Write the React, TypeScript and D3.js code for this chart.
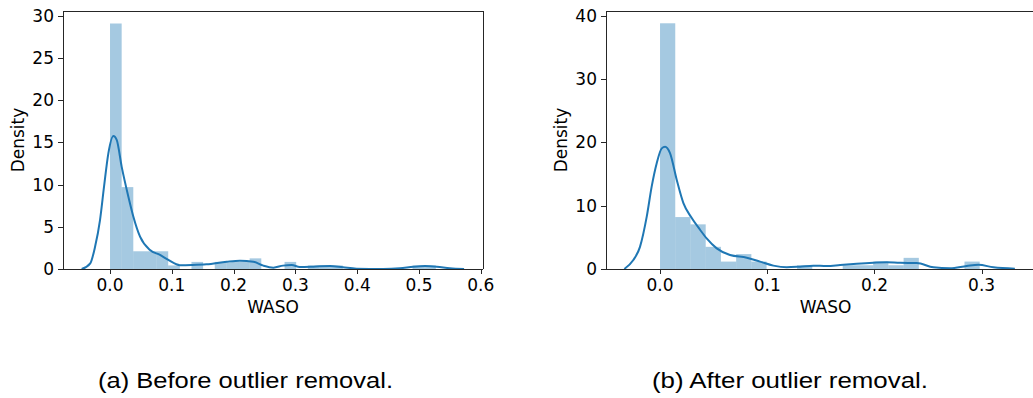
import React from "react";
import * as d3 from "d3";

// ---- Data ----
const leftBinWidth = 0.01883;
const leftDensity = [
  29.08, 9.7, 2.1, 2.1, 2.1, 0.42, 0, 0.84, 0, 0.84, 0.84, 0.84, 1.26, 0, 0,
  0.84, 0, 0.42, 0.42, 0.42, 0, 0, 0, 0, 0, 0, 0.42, 0.42,
];
const rightBinWidth = 0.0142;
const rightDensity = [
  38.8, 8.2, 7.05, 3.5, 1.17, 2.35, 1.17, 0, 0, 0.59, 0, 0, 0.59, 0.59, 1.17,
  0.59, 1.76, 0, 0, 0, 1.17,
];

const leftKdeX = [
  -0.0459, -0.032, -0.0243, -0.0162, -0.0097, -0.0027, 0.0054, 0.0108, 0.0189,
  0.0297, 0.0378, 0.0486, 0.0647, 0.0809, 0.0944, 0.113, 0.132, 0.156, 0.189,
  0.2103, 0.2319, 0.2481, 0.2643, 0.28, 0.294, 0.307, 0.329, 0.356, 0.377,
  0.399, 0.442, 0.469, 0.491, 0.51, 0.529, 0.55, 0.573,
];
const leftKdeY = [
  0, 0.67, 2.6, 5.8, 9.75, 13.7, 15.75, 15.3, 12.1, 8.57, 6.2, 3.83, 2.25, 1.66,
  1.07, 0.45, 0.47, 0.55, 0.87, 0.99, 0.87, 0.4, 0.16, 0.4, 0.47, 0.24, 0.28,
  0.36, 0.2, 0.04, 0.0, 0.08, 0.28, 0.36, 0.28, 0.08, 0,
];

const rightKdeX = [
  -0.0333, -0.0249, -0.0187, -0.0124, -0.0078, -0.0031, 0.0016, 0.0047, 0.0093,
  0.0156, 0.0218, 0.029, 0.0373, 0.0435, 0.0529, 0.0653, 0.0809, 0.0933,
  0.1057, 0.1182, 0.1306, 0.143, 0.1555, 0.168, 0.1835, 0.199, 0.2115, 0.2239,
  0.2395, 0.255, 0.2705, 0.286, 0.297, 0.311, 0.331,
];
const rightKdeY = [
  0, 1.42, 3.5, 8.26, 13.0, 16.7, 19.05, 19.3, 18.3, 14.05, 10.4, 8.2, 6.2,
  4.84, 3.26, 2.21, 1.79, 1.16, 0.53, 0.26, 0.37, 0.53, 0.47, 0.63, 0.84, 1.0,
  1.08, 0.98, 0.95, 0.26, 0.1, 0.47, 0.68, 0.26, 0.05,
];

const leftXTicks = [0, 0.1, 0.2, 0.3, 0.4, 0.5, 0.6];
const leftYTicks = [0, 5, 10, 15, 20, 25, 30];
const rightXTicks = [0, 0.1, 0.2, 0.3];
const rightYTicks = [0, 10, 20, 30, 40];

const xLabel = "WASO";
const yLabel = "Density";
const captionA = "(a) Before outlier removal.";
const captionB = "(b) After outlier removal.";

const BLUE = "#1f77b4";
const TICK_FONT = "'DejaVu Sans', sans-serif";

type PanelProps = {
  left: number;
  right: number;
  top: number;
  bottom: number;
  xDomain: [number, number];
  yMax: number;
  binWidth: number;
  density: number[];
  kdeX: number[];
  kdeY: number[];
  xTicks: number[];
  yTicks: number[];
  yLabelX: number;
  showRightSpine: boolean;
};

function Panel(p: PanelProps) {
  const x = d3.scaleLinear().domain(p.xDomain).range([p.left, p.right]);
  const y = d3.scaleLinear().domain([0, p.yMax]).range([p.bottom, p.top]);
  const pts: [number, number][] = p.kdeX.map((v, i) => [v, p.kdeY[i]]);
  const line = d3
    .line<[number, number]>()
    .x((d) => x(d[0]))
    .y((d) => y(d[1]))
    .curve(d3.curveMonotoneX);
  const fmt = d3.format(".1f");
  const axCx = (p.left + p.right) / 2;
  return (
    <g>
      {p.density.map((d, i) =>
        d > 0 ? (
          <rect
            key={i}
            x={x(i * p.binWidth)}
            width={x((i + 1) * p.binWidth) - x(i * p.binWidth)}
            y={y(d)}
            height={y(0) - y(d)}
            fill={BLUE}
            fillOpacity={0.4}
          />
        ) : null
      )}
      <path d={line(pts) || ""} fill="none" stroke={BLUE} strokeWidth={2} />
      {/* spines */}
      <g stroke="#262626" strokeWidth={1} shapeRendering="crispEdges" fill="none">
        <line x1={p.left} x2={p.left} y1={p.top} y2={p.bottom} />
        <line x1={p.left} x2={p.right} y1={p.bottom} y2={p.bottom} />
        <line x1={p.left} x2={p.right} y1={p.top} y2={p.top} />
        {p.showRightSpine ? (
          <line x1={p.right} x2={p.right} y1={p.top} y2={p.bottom} />
        ) : null}
      </g>
      {/* x ticks */}
      {p.xTicks.map((t) => (
        <g key={"x" + t}>
          <line
            x1={Math.round(x(t)) + 0.5}
            x2={Math.round(x(t)) + 0.5}
            y1={p.bottom}
            y2={p.bottom + 5}
            stroke="#262626"
            strokeWidth={1}
          />
          <text
            x={x(t)}
            y={p.bottom + 22}
            textAnchor="middle"
            fontFamily={TICK_FONT}
            fontSize={17}
            fill="#000"
          >
            {fmt(t)}
          </text>
        </g>
      ))}
      {/* y ticks */}
      {p.yTicks.map((t) => (
        <g key={"y" + t}>
          <line
            x1={p.left - 5}
            x2={p.left}
            y1={Math.round(y(t)) + 0.5}
            y2={Math.round(y(t)) + 0.5}
            stroke="#262626"
            strokeWidth={1}
          />
          <text
            x={p.left - 9}
            y={y(t) + 6}
            textAnchor="end"
            fontFamily={TICK_FONT}
            fontSize={17}
            fill="#000"
          >
            {String(t)}
          </text>
        </g>
      ))}
      <text
        x={axCx}
        y={p.bottom + 44}
        textAnchor="middle"
        fontFamily={TICK_FONT}
        fontSize={17}
        fill="#000"
      >
        {xLabel}
      </text>
      <text
        transform={`translate(${p.yLabelX},${(p.top + p.bottom) / 2}) rotate(-90)`}
        textAnchor="middle"
        fontFamily={TICK_FONT}
        fontSize={17}
        fill="#000"
      >
        {yLabel}
      </text>
    </g>
  );
}

export default function App() {
  return (
    <svg
      width={1033}
      height={398}
      style={{ position: "absolute", left: 0, top: 0, background: "#fff" }}
    >
      <rect x={0} y={0} width={1033} height={398} fill="#fff" />
      <Panel
        left={63}
        right={483}
        top={11}
        bottom={269}
        xDomain={[-0.0761, 0.6036]}
        yMax={30.56}
        binWidth={leftBinWidth}
        density={leftDensity}
        kdeX={leftKdeX}
        kdeY={leftKdeY}
        xTicks={leftXTicks}
        yTicks={leftYTicks}
        yLabelX={24}
        showRightSpine={true}
      />
      <Panel
        left={606}
        right={1045}
        top={11}
        bottom={269}
        xDomain={[-0.0504, 0.3591]}
        yMax={40.74}
        binWidth={rightBinWidth}
        density={rightDensity}
        kdeX={rightKdeX}
        kdeY={rightKdeY}
        xTicks={rightXTicks}
        yTicks={rightYTicks}
        yLabelX={567}
        showRightSpine={false}
      />
      <text
        x={98}
        y={388}
        textLength={295}
        lengthAdjust="spacingAndGlyphs"
        fontFamily="'Liberation Sans', Arial, sans-serif"
        fontSize={22}
        fill="#000"
      >
        {captionA}
      </text>
      <text
        x={652}
        y={388}
        textLength={276}
        lengthAdjust="spacingAndGlyphs"
        fontFamily="'Liberation Sans', Arial, sans-serif"
        fontSize={22}
        fill="#000"
      >
        {captionB}
      </text>
    </svg>
  );
}
